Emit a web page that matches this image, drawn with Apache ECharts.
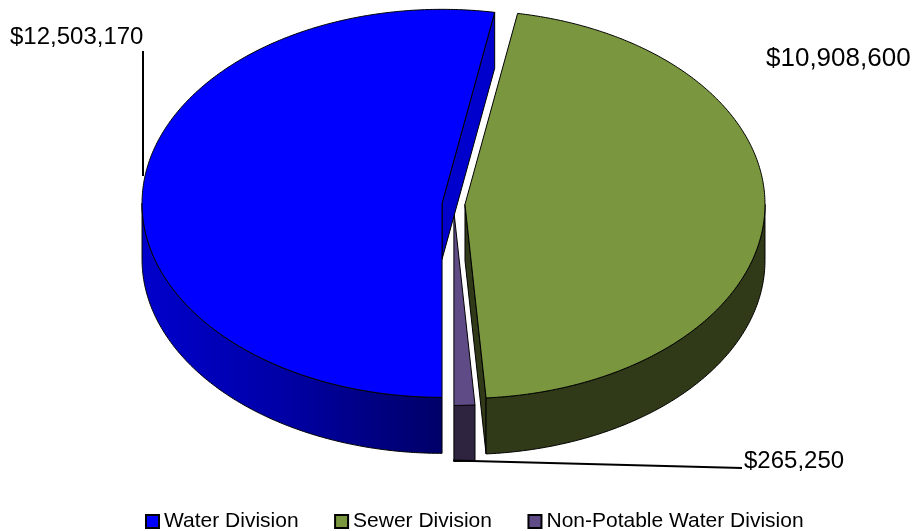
<!DOCTYPE html>
<html><head><meta charset="utf-8">
<style>html,body{margin:0;padding:0;background:#fff}#c{width:917px;height:531px}</style>
<script src="https://cdn.jsdelivr.net/npm/echarts@6/dist/echarts.min.js"></script>
</head><body><div id="c"></div>
<script>
const categories = ['Water Division', 'Sewer Division', 'Non-Potable Water Division'];
const values = [12503170, 10908600, 265250];
const topColors = ['#0000ff', '#7a963e', '#5f4b85'];
const faceColors = ['#0000cc', '#303a18', '#2e2440'];
const labelTexts = ['$12,503,170', '$10,908,600', '$265,250'];

const FONT = '"Liberation Sans", Arial, sans-serif';
const CX = 453.5, CY = 204, RX = 300, RY = 194, DEPTH = 56, EXPLODE = 11.5, START = 180;
const total = values.reduce((a, b) => a + b, 0);
const spans = [];
values.reduce((acc, v) => { const s = acc + v / total * 360; spans.push([acc, s]); return s; }, START);

const rad = d => d * Math.PI / 180;
function rimPoint(o, a, dy) { return [o[0] + RX * Math.sin(rad(a)), o[1] - RY * Math.cos(rad(a)) + (dy || 0)]; }
function arc(o, a0, a1, dy) {
  const n = Math.max(2, Math.ceil(Math.abs(a1 - a0) * 2)), pts = [];
  for (let i = 0; i <= n; i++) pts.push(rimPoint(o, a0 + (a1 - a0) * i / n, dy));
  return pts;
}
const poly = (points, fill, lw) => ({ type: 'polygon', shape: { points }, style: { fill, stroke: '#000', lineWidth: lw === undefined ? 1 : lw } });
const line = (points, w) => ({ type: 'polyline', shape: { points }, style: { fill: null, stroke: '#000', lineWidth: w } });
const txt = (text, x, y, size, align) => ({ type: 'text', style: { text, x, y, fill: '#000', font: size + 'px ' + FONT, textAlign: align || 'left', textVerticalAlign: 'middle' } });

function sliceItem(idx) {
  return function (params, api) {
    const v = api.value(0);
    const i0 = spans[idx][0], i1 = i0 + v / total * 360, mid = (i0 + i1) / 2;
    const o = [CX + EXPLODE * Math.sin(rad(mid)), CY - EXPLODE * RY / RX * Math.cos(rad(mid))];
    const down = p => [p[0], p[1] + DEPTH];
    const kids = [];
    // cut faces that look toward the viewer
    if (idx === 0 || idx === 1) {
      const r = rimPoint(o, i1);
      kids.push(poly([o, r, down(r), down(o)], faceColors[idx]));
    }
    // outer wall on the front half of the rim
    const shift = i0 >= 360 ? 360 : 0;
    const w0 = Math.max(i0 - shift, 90), w1 = Math.min(i1 - shift, 270);
    if (w1 > w0) {
      const fill = idx === 0
        ? new echarts.graphic.LinearGradient(o[0] - RX, 0, o[0], 0, [{ offset: 0, color: '#0000cc' }, { offset: 0.45, color: '#0000a8' }, { offset: 1, color: '#000068' }], true)
        : faceColors[idx];
      kids.push(poly(arc(o, w0, w1).concat(arc(o, w1, w0, DEPTH)), fill));
    }
    // top
    kids.push(poly([o].concat(arc(o, i0, i1)), topColors[idx]));
    // data labels and leader lines
    if (idx === 0) {
      kids.push(txt(labelTexts[0], 10, 37.5, 24));
      kids.push(line([[143, 51], [143, 176]], 2));
    } else if (idx === 1) {
      kids.push(txt(labelTexts[1], 766, 58.5, 26));
    } else {
      kids.push(txt(labelTexts[2], 744, 461, 24));
      kids.push(line([[453, 460.5], [742, 468]], 2));
    }
    return { type: 'group', children: kids };
  };
}

const chart = echarts.init(document.getElementById('c'), null, { renderer: 'canvas' });
const drawOrder = [2, 0, 1];
chart.setOption({
  animation: false,
  backgroundColor: '#fff',
  legend: {
    data: categories, left: 140, top: 506, itemWidth: 13, itemHeight: 13, itemGap: 35.5,
    icon: 'rect', selectedMode: false,
    itemStyle: { borderColor: '#000', borderWidth: 2 },
    textStyle: { fontFamily: FONT, fontSize: 21, color: '#000' }
  },
  series: drawOrder.map((idx, z) => ({
    type: 'custom', name: categories[idx], coordinateSystem: 'none', z: z + 2, silent: true,
    itemStyle: { color: topColors[idx] },
    data: [[values[idx]]], renderItem: sliceItem(idx)
  }))
});
</script></body></html>
